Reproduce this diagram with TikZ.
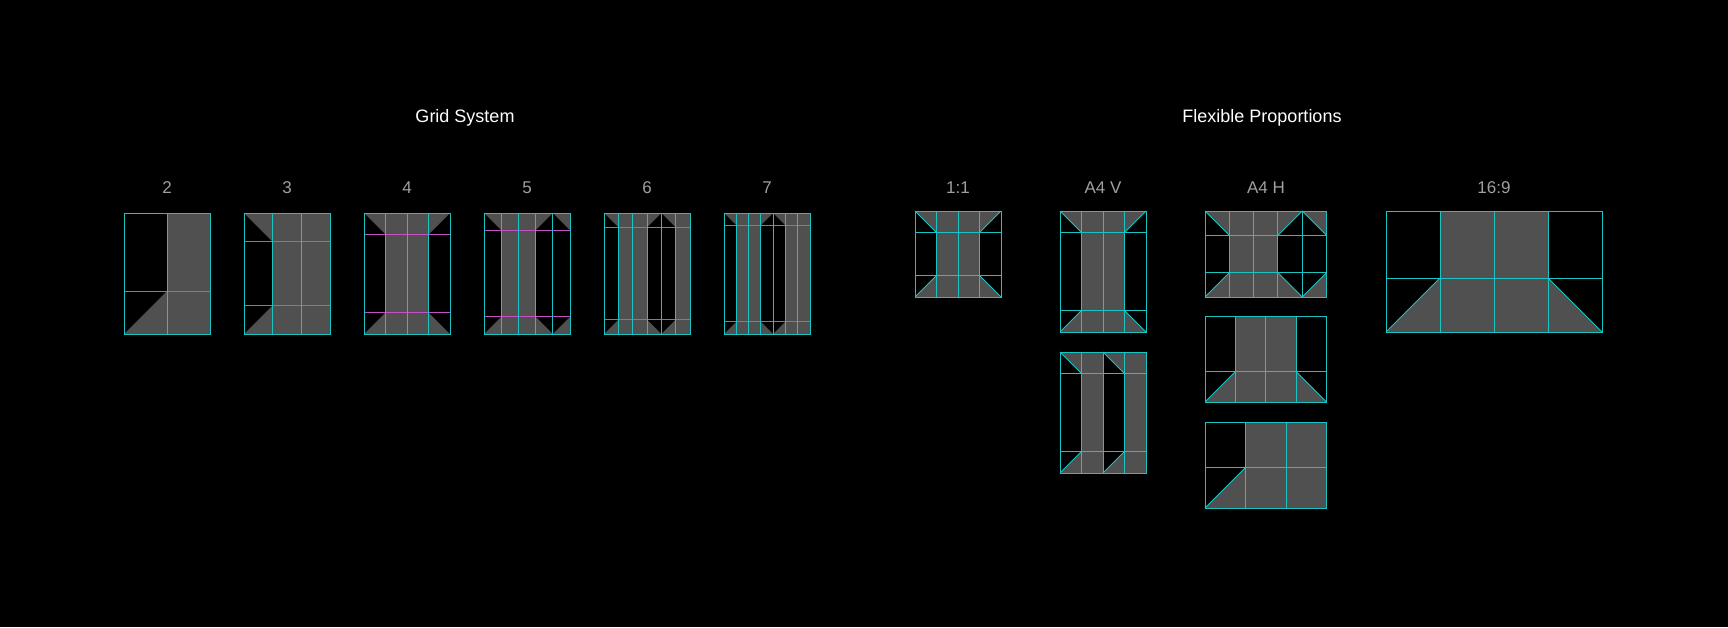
\documentclass[tikz,border=0pt]{standalone}
\usepackage{fontspec}
\setmainfont{Liberation Sans}
\definecolor{panelgray}{HTML}{505050}
\definecolor{guidecyan}{HTML}{19C4C4}
\definecolor{guidepink}{HTML}{C64FC6}
\definecolor{labelgray}{HTML}{A0A0A0}
\tikzset{
 guide/.style={guidecyan, line width=0.85pt},
 gridmode/.style={hrule/.style={guidepink, line width=0.85pt}, diag/.style={draw=none}},
 flexmode/.style={hrule/.style={guide}, diag/.style={guide}},
 headtext/.style={text=white, font=\fontsize{18}{20}\selectfont, anchor=base},
 sizetext/.style={text=labelgray, font=\fontsize{17}{19}\selectfont, anchor=base},
}
% #1,#2 top left, #3 width, #4 height, #5 columns, #6 filled columns,
% #7 top corners col/side, #8 bottom corners col/side, #9 mode
\newcommand{\panel}[9]{%
 \begin{scope}[shift={(#1,#2)},#9]
  \pgfmathsetmacro{\cw}{#3/#5}
  \pgfmathtruncatemacro{\nlast}{#5-1}
  \foreach \col in {#6} \fill[panelgray] ({(\col-1)*\cw},0) rectangle ({\col*\cw},#4);
  \foreach \col/\side in {#7} \fill[panelgray] ({(\col-1)*\cw},0) -- ({\col*\cw},0) -- ({\side*\cw},\cw) -- cycle;
  \foreach \col/\side in {#8} \fill[panelgray] ({(\col-1)*\cw},#4) -- ({\col*\cw},#4) -- ({\side*\cw},{#4-\cw}) -- cycle;
  \foreach \col/\side [count=\idx] in {#7} {
   \ifnum\idx=1 \draw[hrule] (0,\cw) -- (#3,\cw);\fi
  }
  \foreach \col/\side [count=\idx] in {#8} {
   \ifnum\idx=1 \draw[hrule] (0,{#4-\cw}) -- (#3,{#4-\cw});\fi
  }
  \foreach \col in {1,...,\nlast} \draw[guide] ({\col*\cw},0) -- ({\col*\cw},#4);
  \foreach \col/\side in {#7} \draw[diag] ({(2*\col-1-\side)*\cw},0) -- ({\side*\cw},\cw);
  \foreach \col/\side in {#8} \draw[diag] ({(2*\col-1-\side)*\cw},#4) -- ({\side*\cw},{#4-\cw});
  \draw[guide] (0,0) rectangle (#3,#4);
 \end{scope}}

\begin{document}
\begin{tikzpicture}[x=1pt, y=-1pt]
\useasboundingbox[fill=black] (0,0) rectangle (1728,627);

\node[headtext] (gridtitle) at (465,122) {Grid System};
\node[headtext] (flextitle) at (1262,122) {Flexible Proportions};

% grid system
\foreach \n [count=\i from 0] in {2,...,7}
 \node[sizetext] (cols\n) at (167+120*\i,193) {\n};
\panel{124}{213}{86}{121}{2}{2}{}{1/1}{gridmode}
\panel{244}{213}{86}{121}{3}{2,3}{1/1}{1/1}{gridmode}
\panel{364}{213}{86}{121}{4}{2,3}{1/1,4/3}{1/1,4/3}{gridmode}
\panel{484}{213}{86}{121}{5}{2,3}{1/1,4/3,5/5}{1/1,4/3,5/5}{gridmode}
\panel{604}{213}{86}{121}{6}{2,3,6}{1/1,4/3,5/5}{1/1,4/3,5/5}{gridmode}
\panel{724}{213}{86}{121}{7}{2,3,6,7}{1/1,4/3,5/5}{1/1,4/3,5/5}{gridmode}

% flexible proportions
\node[sizetext] (square) at (958,193) {1:1};
\node[sizetext] (portrait) at (1103,193) {A4 V};
\node[sizetext] (landscape) at (1266,193) {A4 H};
\node[sizetext] (wide) at (1494,193) {16:9};
\panel{915}{211}{86}{86}{4}{2,3}{1/1,4/3}{1/1,4/3}{flexmode}
\panel{1060}{211}{86}{121}{4}{2,3}{1/1,4/3}{1/1,4/3}{flexmode}
\panel{1060}{352}{86}{121}{4}{2,4}{1/1,3/3}{1/1,3/3}{flexmode}
\panel{1205}{211}{121.5}{86}{5}{2,3}{1/1,4/3,5/5}{1/1,4/3,5/5}{flexmode}
\panel{1205}{316}{121.5}{86}{4}{2,3}{}{1/1,4/3}{flexmode}
\panel{1205}{422}{121.5}{86}{3}{2,3}{}{1/1}{flexmode}
\panel{1386}{211}{216}{121}{4}{2,3}{}{1/1,4/3}{flexmode}
\end{tikzpicture}
\end{document}
